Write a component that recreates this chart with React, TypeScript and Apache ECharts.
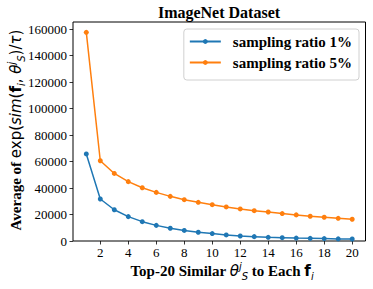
import React, { useEffect, useRef } from "react";
import * as echarts from "echarts";

const xValues = [1, 2, 3, 4, 5, 6, 7, 8, 9, 10, 11, 12, 13, 14, 15, 16, 17, 18, 19, 20];
const ratio1 = [65700, 31700, 23600, 18400, 14600, 11800, 9600, 8000, 6600, 5600, 4600, 3800, 3300, 2800, 2500, 2200, 2000, 1800, 1600, 1500];
const ratio5 = [157500, 60600, 51000, 44800, 40200, 36700, 33700, 31200, 29200, 27400, 25700, 24200, 22900, 21900, 20700, 19700, 18700, 17900, 17100, 16400];
const seriesNames = ["sampling ratio 1%", "sampling ratio 5%"];
const xTicks = [2, 4, 6, 8, 10, 12, 14, 16, 18, 20];
const yTicks = [0, 20000, 40000, 60000, 80000, 100000, 120000, 140000, 160000];

const BLUE = "#1f77b4";
const ORANGE = "#ff7f0e";

export default function App() {
  const ref = useRef<HTMLDivElement>(null);
  useEffect(() => {
    if (!ref.current) return;
    const chart = echarts.init(ref.current, undefined, { renderer: "svg" });
    const serif = "Liberation Serif";
    const sans = "DejaVu Sans";
    const fs = 15;
    const rich: any = {
      b: { fontFamily: serif, fontWeight: "bold", fontSize: fs, lineHeight: 20, fill: "#000" },
      m: { fontFamily: sans, fontSize: fs, lineHeight: 20 },
      mi: { fontFamily: sans, fontStyle: "italic", fontSize: fs, lineHeight: 20 },
      mb: { fontFamily: sans, fontWeight: "bold", fontSize: fs, lineHeight: 20 },
      sub: { fontFamily: sans, fontStyle: "italic", fontSize: 10, lineHeight: 20, verticalAlign: "bottom" },
      sup: { fontFamily: sans, fontStyle: "italic", fontSize: 10, lineHeight: 20, verticalAlign: "top" },
    };
    const mk = (vals: number[]) => xValues.map((x, i) => [x, vals[i]]);
    chart.setOption({
      animation: false,
      grid: {
        left: 73,
        right: 7.5,
        top: 22,
        bottom: 48,
        show: true,
        borderColor: "#000",
        borderWidth: 1,
        backgroundColor: "transparent",
      },
      legend: {
        orient: "vertical",
        right: 14,
        top: 29,
        padding: [5, 7, 10, 5],
        itemGap: 6,
        itemWidth: 31,
        itemHeight: 6,
        borderColor: "#d0d0d0",
        borderWidth: 1,
        borderRadius: 3,
        backgroundColor: "#fff",
        textStyle: {
          fontFamily: serif,
          fontWeight: "bold",
          fontSize: 15,
          lineHeight: 15,
          color: "#000",
          padding: [0, 0, 0, 7],
        },
        data: seriesNames,
      },
      xAxis: {
        type: "value",
        min: 0.05,
        max: 20.95,
        splitLine: { show: false },
        axisLine: { show: false },
        axisTick: {
          show: true,
          customValues: xTicks,
          length: 3.5,
          lineStyle: { color: "#000", width: 0.8 },
        },
        axisLabel: {
          customValues: xTicks,
          margin: 5,
          fontFamily: serif,
          fontSize: 13,
          color: "#000",
          formatter: (v: number) => String(v),
        },
      },
      yAxis: {
        type: "value",
        min: 0,
        max: 165300,
        splitLine: { show: false },
        axisLine: { show: false },
        axisTick: {
          show: true,
          customValues: yTicks,
          length: 3.5,
          lineStyle: { color: "#000", width: 0.8 },
        },
        axisLabel: {
          customValues: yTicks,
          margin: 6,
          fontFamily: serif,
          fontSize: 13,
          color: "#000",
          formatter: (v: number) => String(Math.round(v)),
        },
      },
      graphic: [
        {
          type: "text",
          x: 219,
          y: 12,
          style: {
            text: "ImageNet Dataset",
            fontFamily: serif,
            fontWeight: "bold",
            fontSize: 16,
            fill: "#000",
            align: "center",
            verticalAlign: "middle",
          },
        },
        {
          type: "text",
          x: 222,
          y: 271,
          style: {
            text: "{b|Top-20 Similar }{mi|θ}{sup|j}{sub|S}{b| to Each }{mb|f}{sub|i}",
            rich,
            fill: "#000",
            align: "center",
            verticalAlign: "middle",
          },
        },
        {
          type: "text",
          x: 16,
          y: 130,
          rotation: Math.PI / 2,
          style: {
            text: "{b|Average of }{m|exp(}{mi|sim}{m|(}{mb|f}{sub|i}{m|, }{mi|θ}{sup|j}{sub|S}{m|)/}{mi|τ}{m|)}",
            rich,
            fill: "#000",
            align: "center",
            verticalAlign: "middle",
          },
        },
      ],
      series: [
        {
          name: seriesNames[0],
          type: "line",
          data: mk(ratio1),
          color: BLUE,
          symbol: "circle",
          symbolSize: 5,
          lineStyle: { width: 1.5, color: BLUE },
          itemStyle: { color: BLUE },
        },
        {
          name: seriesNames[1],
          type: "line",
          data: mk(ratio5),
          color: ORANGE,
          symbol: "circle",
          symbolSize: 5,
          lineStyle: { width: 1.5, color: ORANGE },
          itemStyle: { color: ORANGE },
        },
      ],
    });
    return () => chart.dispose();
  }, []);
  return <div ref={ref} style={{ width: 373, height: 289, position: "absolute", left: 0, top: 0 }} />;
}
